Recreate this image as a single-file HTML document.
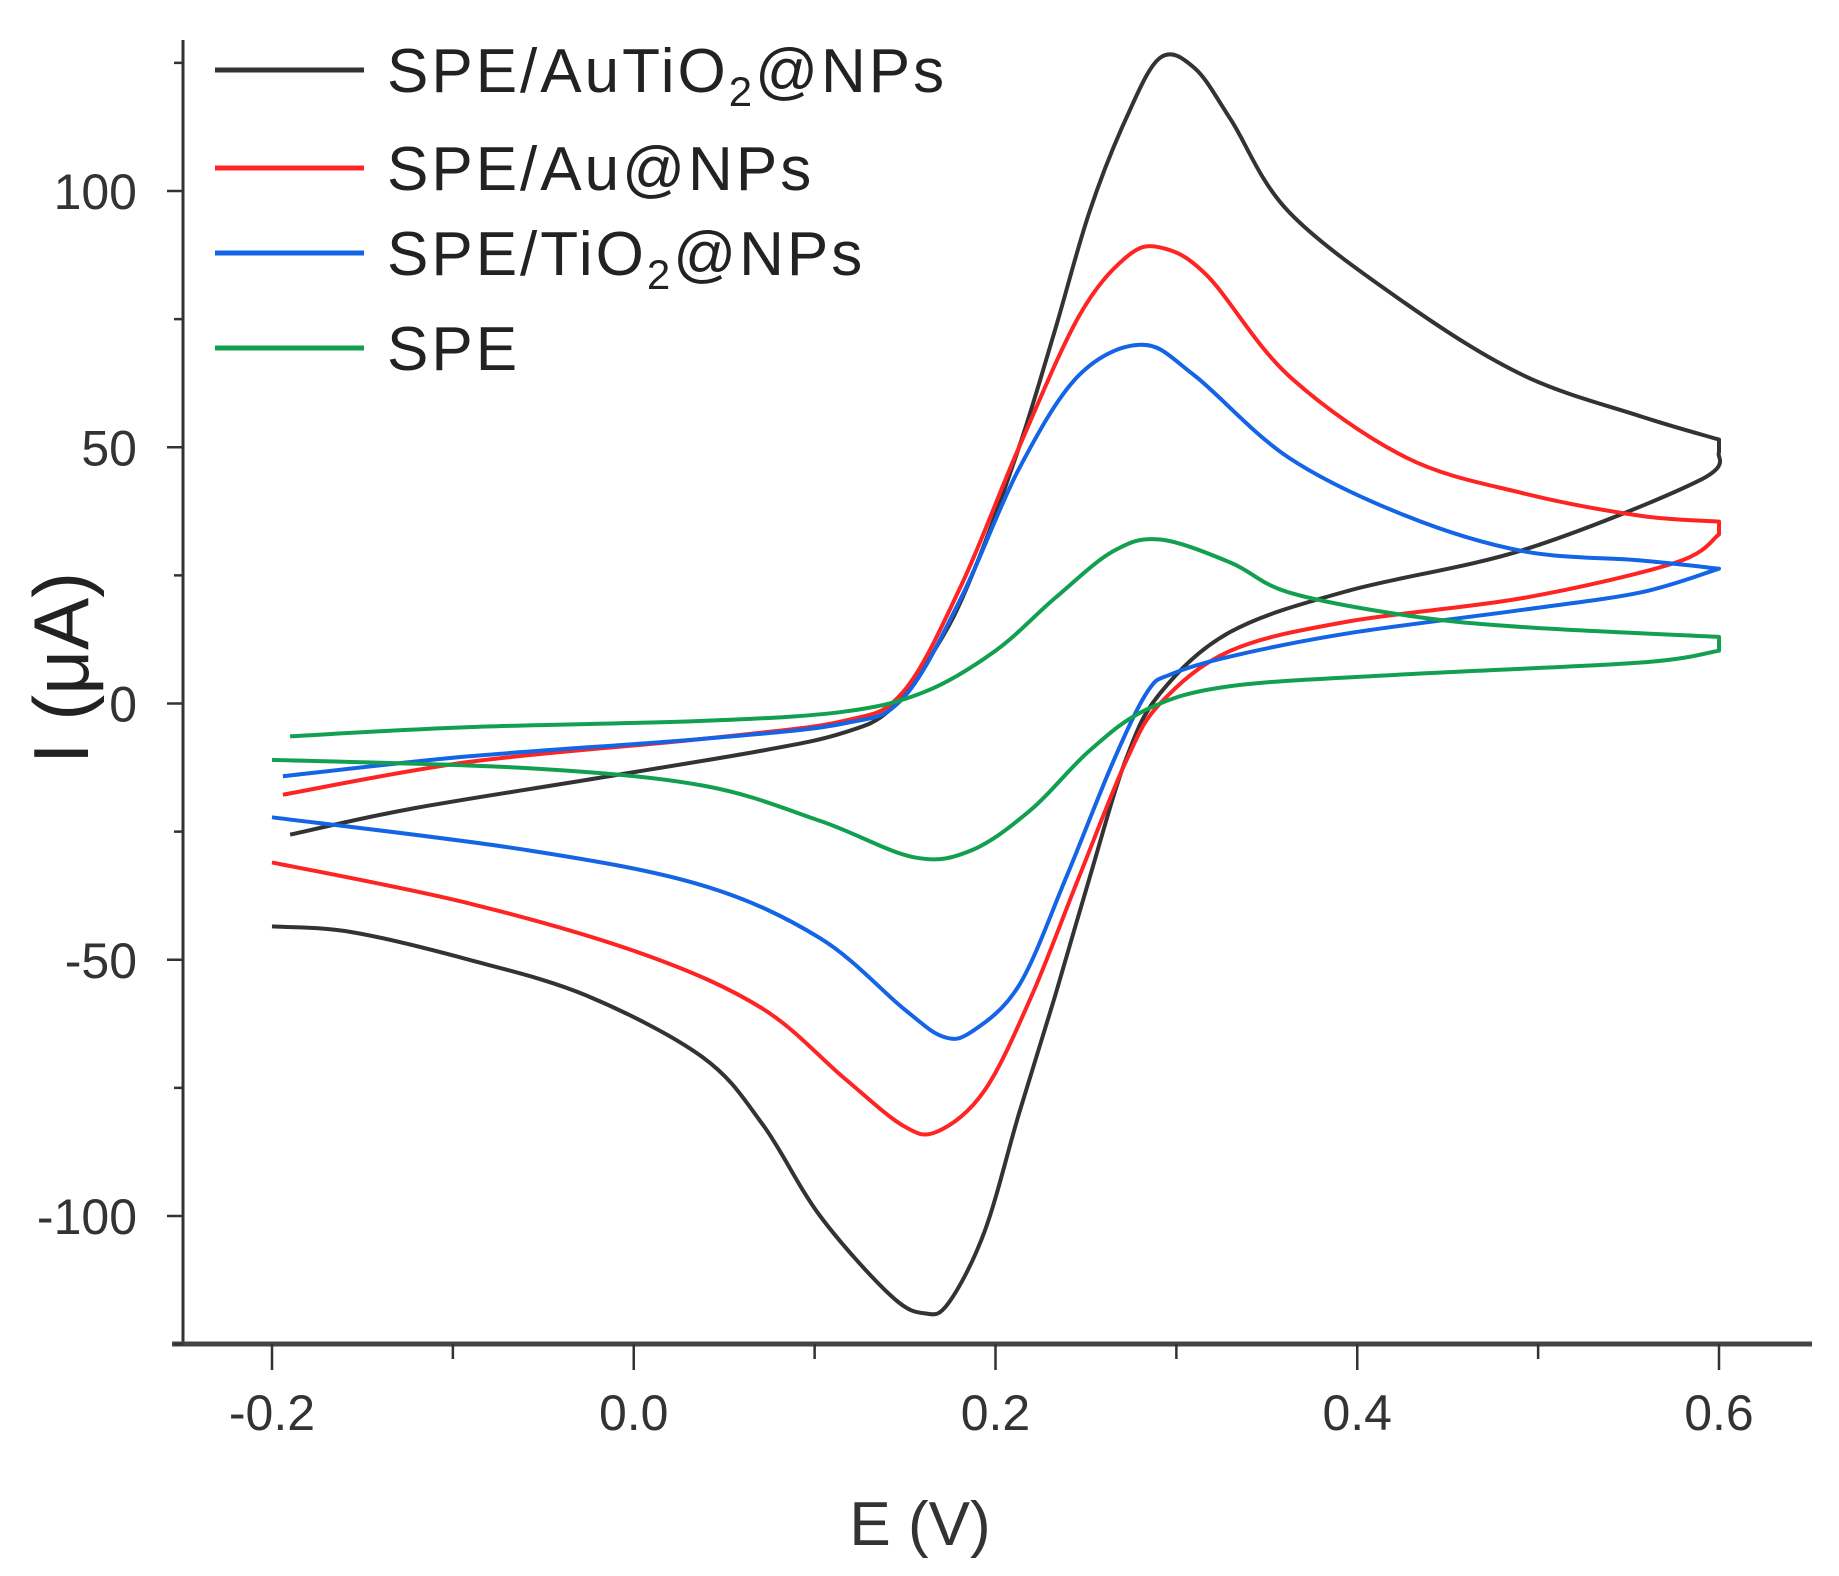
<!DOCTYPE html>
<html><head><meta charset="utf-8"><style>
html,body{margin:0;padding:0;background:#fff;}
svg{display:block;}
text{font-family:"Liberation Sans",sans-serif;}
</style></head><body>
<svg id="chart" width="1839" height="1576" viewBox="0 0 1839 1576" xmlns="http://www.w3.org/2000/svg">
<g id="axes"></g>
<g id="series"></g>
<g id="legend"></g>
</svg>
<script>
const xTicks = [-0.2, 0.0, 0.2, 0.4, 0.6];
const xTickLabels = ["-0.2", "0.0", "0.2", "0.4", "0.6"];
const xMinorTicks = [-0.1, 0.1, 0.3, 0.5];
const yTicks = [-100, -50, 0, 50, 100];
const yTickLabels = ["-100", "-50", "0", "50", "100"];
const yMinorTicks = [-125, -75, -25, 25, 75, 125];
const seriesNames = ["SPE/AuTiO2@NPs", "SPE/Au@NPs", "SPE/TiO2@NPs", "SPE"];

const blackE = [-0.19,-0.124,-0.026,0.071,0.116,0.142,0.168,0.187,0.213,0.233,0.252,0.272,0.291,0.31,0.33,0.362,0.427,0.492,0.557,0.6,0.6,0.589,0.492,0.395,0.33,0.291,0.272,0.252,0.233,0.213,0.194,0.174,0.161,0.142,0.103,0.071,0.038,-0.026,-0.091,-0.156,-0.2];
const blackI = [-25.6,-20.6,-14.9,-9.2,-5.7,-1.1,11.4,25,50,73,96,114,126,124,114,96,78,64,56,51.5,49,43.5,30,22,14,2,-11,-34,-57,-80,-103,-117,-119,-115.5,-100,-82,-69,-57,-50,-44.6,-43.5];
const redE = [-0.194,-0.091,0.038,0.116,0.149,0.181,0.213,0.246,0.272,0.291,0.317,0.362,0.427,0.492,0.557,0.6,0.6,0.576,0.492,0.395,0.33,0.291,0.272,0.246,0.22,0.194,0.168,0.149,0.116,0.071,0.006,-0.091,-0.2];
const redI = [-17.8,-11.4,-6.9,-3.4,2.3,23,50,75.5,87,89,83.5,64,48,41,36.6,35.5,33,27.5,20.6,16,10.3,0,-11.4,-34,-57,-75.5,-83.5,-82.4,-73,-59.5,-49,-39,-31];
const blueE = [-0.194,-0.091,0.038,0.116,0.149,0.181,0.213,0.246,0.281,0.31,0.362,0.427,0.492,0.557,0.6,0.557,0.492,0.395,0.33,0.297,0.284,0.265,0.239,0.213,0.187,0.171,0.149,0.103,0.038,-0.059,-0.2];
const blueI = [-14.2,-10.3,-6.9,-3.9,1.1,20.6,45.8,64,70,64,48,36.6,29.7,27.9,26.3,21.7,18.3,13.7,9.2,5.7,2.3,-11.4,-34,-55,-64,-65,-59.5,-45.8,-35.5,-28.6,-22.2];
const greenE = [-0.19,-0.091,0.038,0.116,0.161,0.2,0.233,0.265,0.291,0.33,0.362,0.427,0.492,0.6,0.6,0.557,0.427,0.33,0.284,0.252,0.22,0.187,0.155,0.103,0.038,-0.059,-0.2];
const greenI = [-6.4,-4.6,-3.4,-1.6,2.3,10.3,20.6,29.7,32,27.5,21.7,17.2,14.9,13,10.3,8,5.7,3.4,-1.1,-9.2,-20.6,-28.6,-30,-22.9,-16,-12.6,-11];

const NS = "http://www.w3.org/2000/svg";
const X0 = 272, XPX = 1808.75;
const Y0 = 703.5, YPX = 5.125;
function xScale(v){ return X0 + (v + 0.2) * XPX; }
function yScale(v){ return Y0 - v * YPX; }
function mk(tag, attrs, parent){ const e = document.createElementNS(NS, tag); for (const k in attrs) e.setAttribute(k, attrs[k]); parent.appendChild(e); return e; }

const axes = document.getElementById('axes');
const axisBottom = 1344, axisTop = 40, axisLeft = 183;
let el;
el = mk('line', {x1: axisLeft, y1: axisTop, x2: axisLeft, y2: axisBottom, stroke: '#333', 'stroke-width': 3}, axes);


el = mk('line', {x1: 172, y1: axisBottom, x2: 1812, y2: axisBottom, stroke: '#444', 'stroke-width': 5}, axes);



xTicks.forEach((v, i) => {
  const x = xScale(v);
  const t = mk('line', {x1: x, y1: axisBottom, x2: x, y2: axisBottom + 26, stroke: '#333', 'stroke-width': 2.5}, axes);
  
  
  const l = mk('text', {x: x, y: 1430, 'text-anchor': 'middle', 'font-size': 50, fill: '#333'}, axes);
  l.textContent = xTickLabels[i];
  
  
});
xMinorTicks.forEach(v => {
  const x = xScale(v);
  const t = mk('line', {x1: x, y1: axisBottom, x2: x, y2: axisBottom + 15, stroke: '#333', 'stroke-width': 2.5}, axes);
  
  
});
yTicks.forEach((v, i) => {
  const y = yScale(v);
  const t = mk('line', {x1: axisLeft - 16, y1: y, x2: axisLeft, y2: y, stroke: '#333', 'stroke-width': 2.5}, axes);
  
  
  const l = mk('text', {x: 137, y: y + 18, 'text-anchor': 'end', 'font-size': 50, fill: '#333'}, axes);
  l.textContent = yTickLabels[i];
  
  
});
yMinorTicks.forEach(v => {
  const y = yScale(v);
  const t = mk('line', {x1: axisLeft - 9, y1: y, x2: axisLeft, y2: y, stroke: '#333', 'stroke-width': 2.5}, axes);
  
  
});
el = mk('text', {x: 920, y: 1545, 'text-anchor': 'middle', 'font-size': 62, fill: '#333', 'font-family': '"Liberation Serif", serif'}, axes);
el.textContent = 'E (V)';


el = mk('text', {x: 0, y: 0, 'text-anchor': 'middle', 'font-size': 78, fill: '#222', transform: 'translate(88,668) rotate(-90)'}, axes);
el.textContent = 'I (μA)';



function spline(p){
  let d = 'M' + p[0][0].toFixed(1) + ',' + p[0][1].toFixed(1);
  for (let i = 0; i < p.length - 1; i++){
    const p0 = p[Math.max(0, i - 1)], p1 = p[i], p2 = p[i + 1], p3 = p[Math.min(p.length - 1, i + 2)];
    const c1 = [p1[0] + (p2[0] - p0[0]) / 6, p1[1] + (p2[1] - p0[1]) / 6];
    const c2 = [p2[0] - (p3[0] - p1[0]) / 6, p2[1] - (p3[1] - p1[1]) / 6];
    d += ' C' + c1[0].toFixed(1) + ',' + c1[1].toFixed(1) + ' ' + c2[0].toFixed(1) + ',' + c2[1].toFixed(1) + ' ' + p2[0].toFixed(1) + ',' + p2[1].toFixed(1);
  }
  return d;
}
function pathFrom(E, I){
  const p = E.map((e, i) => [xScale(e), yScale(I[i])]);
  let k = 0;
  for (let i = 1; i < E.length; i++) if (E[i] > E[k]) k = i;
  const fwd = p.slice(0, k + 1);
  let r = k;
  while (r + 1 < E.length && E[r + 1] >= E[k]) r++;
  const rev = p.slice(r);
  let d = spline(fwd);
  if (r > k) d += ' L' + rev[0][0].toFixed(1) + ',' + rev[0][1].toFixed(1);
  d += ' ' + spline(rev).replace(/^M[^ ]+/, '');
  return d;
}
const seriesG = document.getElementById('series');
const seriesData = [[blackE, blackI, '#333333'], [redE, redI, '#ff2424'], [blueE, blueI, '#1464e6'], [greenE, greenI, '#12a050']];
const seriesKeys = ['series-autio2', 'series-au', 'series-tio2', 'series-spe'];
seriesData.forEach((s, i) => {
  const p = mk('path', {d: pathFrom(s[0], s[1]), fill: 'none', stroke: s[2], 'stroke-width': 4, 'stroke-linejoin': 'round'}, seriesG);
  
  
});

const legend = document.getElementById('legend');
const legendY = [70, 168, 253, 348];
const legendLabels = [['SPE/AuTiO', '2', '@NPs'], ['SPE/Au@NPs'], ['SPE/TiO', '2', '@NPs'], ['SPE']];
seriesData.forEach((s, i) => {
  const l = mk('line', {x1: 215, y1: legendY[i], x2: 364, y2: legendY[i], stroke: s[2], 'stroke-width': 5}, legend);
  
  
  const t = mk('text', {x: 387, y: legendY[i] + 22, 'font-size': 62, fill: '#222', 'letter-spacing': 3}, legend);
  
  
  const parts = legendLabels[i];
  const a = mk('tspan', {}, t); a.textContent = parts[0];
  if (parts.length > 1){
    const b = mk('tspan', {dy: 14, 'font-size': 42}, t); b.textContent = parts[1];
    const c = mk('tspan', {dy: -14}, t); c.textContent = parts[2];
  }
});
</script>
</body></html>
